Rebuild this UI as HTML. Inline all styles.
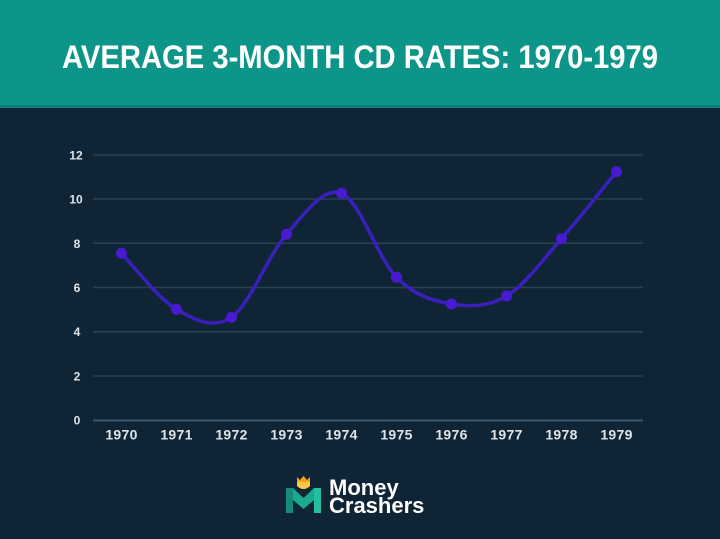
<!DOCTYPE html>
<html>
<head>
<meta charset="utf-8">
<style>
  html,body{margin:0;padding:0;}
  body{width:720px;height:539px;overflow:hidden;background:#0f2434;}
  svg{display:block;}
</style>
</head>
<body>
<svg width="720" height="539" viewBox="0 0 720 539" xmlns="http://www.w3.org/2000/svg">
  <rect x="0" y="0" width="720" height="539" fill="#0f2434"/>
  <!-- header -->
  <rect x="0" y="0" width="720" height="107" fill="#0e958a"/>
  <rect x="0" y="105" width="720" height="3" fill="#0c7f78"/>
  <text x="62" y="68" font-family="Liberation Sans, sans-serif" font-weight="bold" font-size="32" fill="#ffffff" textLength="596" lengthAdjust="spacingAndGlyphs">AVERAGE 3-MONTH CD RATES: 1970-1979</text>

  <!-- grid lines -->
  <g stroke="#2b4251" stroke-width="1.5">
    <line x1="93" y1="155" x2="643" y2="155"/>
    <line x1="93" y1="199" x2="643" y2="199"/>
    <line x1="93" y1="243.3" x2="643" y2="243.3"/>
    <line x1="93" y1="287.5" x2="643" y2="287.5"/>
    <line x1="93" y1="331.7" x2="643" y2="331.7"/>
    <line x1="93" y1="376" x2="643" y2="376"/>
  </g>
  <line x1="93" y1="420.5" x2="643" y2="420.5" stroke="#3b5866" stroke-width="2"/>

  <!-- y labels -->
  <g font-family="Liberation Sans, sans-serif" font-weight="bold" font-size="12" fill="#dfe4e8" text-anchor="middle">
    <text x="76" y="159.5">12</text>
    <text x="76" y="203.5">10</text>
    <text x="77" y="247.8">8</text>
    <text x="77" y="292">6</text>
    <text x="77" y="336.2">4</text>
    <text x="77" y="380.5">2</text>
    <text x="77" y="424.5">0</text>
  </g>

  <!-- x labels -->
  <g font-family="Liberation Sans, sans-serif" font-weight="bold" font-size="14" fill="#dfe4e8" text-anchor="middle" letter-spacing="0.3">
    <text x="121.5" y="439.5">1970</text>
    <text x="176.5" y="439.5">1971</text>
    <text x="231.5" y="439.5">1972</text>
    <text x="286.5" y="439.5">1973</text>
    <text x="341.5" y="439.5">1974</text>
    <text x="396.5" y="439.5">1975</text>
    <text x="451.5" y="439.5">1976</text>
    <text x="506.5" y="439.5">1977</text>
    <text x="561.5" y="439.5">1978</text>
    <text x="616.5" y="439.5">1979</text>
  </g>

  <!-- line -->
  <path d="M121.5,253.3 C130.7,262.6 158.2,298.6 176.5,309.3 C194.8,320.0 213.2,329.8 231.5,317.3 C249.8,304.8 268.2,255.0 286.5,234.3 C304.8,213.6 323.2,186.1 341.5,193.3 C359.8,200.5 378.2,258.9 396.5,277.3 C414.8,295.8 433.2,300.9 451.5,304 C469.8,307.1 488.2,306.9 506.5,296 C524.8,285.1 543.2,259.4 561.5,238.7 C579.8,218.0 607.3,182.9 616.5,171.7"
        fill="none" stroke="#3820b8" stroke-width="3.6" stroke-linecap="round" stroke-linejoin="round"/>
  <g fill="#4a1ad2">
    <circle cx="121.5" cy="253.3" r="5.5"/>
    <circle cx="176.5" cy="309.3" r="5.5"/>
    <circle cx="231.5" cy="317.3" r="5.5"/>
    <circle cx="286.5" cy="234.3" r="5.5"/>
    <circle cx="341.5" cy="193.3" r="5.5"/>
    <circle cx="396.5" cy="277.3" r="5.5"/>
    <circle cx="451.5" cy="304" r="5.5"/>
    <circle cx="506.5" cy="296" r="5.5"/>
    <circle cx="561.5" cy="238.7" r="5.5"/>
    <circle cx="616.5" cy="171.7" r="5.5"/>
  </g>

  <!-- logo -->
  <g>
    <path d="M297,477 L300,480 L303.5,476 L307,480 L310,477 L310,486 Q303.5,492 297,486 Z" fill="#f3a51c"/>
    <path d="M297,482 L310,482 L310,486 Q303.5,492 297,486 Z" fill="#f7c94a"/>
    <path d="M286,488 L293,488 L303.5,498 L314,488 L321,488 L321,513 L314,513 L314,500 L303.5,509 L293,500 L293,513 L286,513 Z" fill="#1ba98f"/>
    <path d="M286,488 L293,488 L293,513 L286,513 Z" fill="#138a7a"/>
    <path d="M314,488 L321,488 L321,513 L314,513 Z" fill="#22c0a0"/>
  </g>
  <g font-family="Liberation Sans, sans-serif" font-weight="bold" font-size="22" fill="#ffffff">
    <text x="329" y="495">Money</text>
    <text x="329" y="513">Crashers</text>
  </g>
</svg>
</body>
</html>
